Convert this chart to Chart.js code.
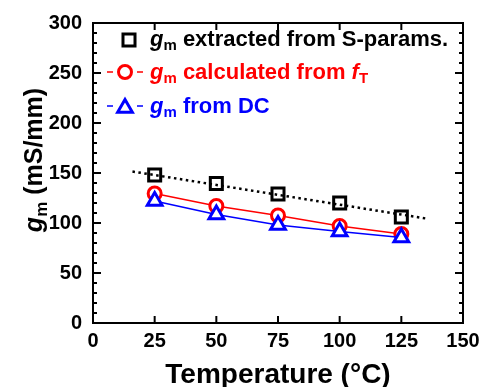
<!DOCTYPE html>
<html lang="en">
<head>
    <meta charset="UTF-8">
    <title>gm vs Temperature</title>
    <script src="https://cdn.jsdelivr.net/npm/chart.js"></script>
    <style>
        body {
            margin: 0;
            padding: 0;
            background: #fff;
        }
        .chart-box {
            width: 496px;
            height: 387px;
        }
    </style>
</head>
<body>
    <div class="chart-box"><canvas id="gmChart" width="496" height="387"></canvas></div>
    <script>
        // values
        const temps = [25, 50, 75, 100, 125];
        const gmSparams = [148, 139.5, 129, 120, 106];
        const gmFromFt = [129.5, 117, 107.5, 97, 89];
        const gmFromDC = [122, 108.5, 98, 91.5, 85.5];
        // dotted linear fit through the S-param points
        const fitX = [16, 135];
        const fitY = [151.5, 104.5];

        const FONT = 'Arial, "Liberation Sans", sans-serif';

        const toPts = (xs, ys) => xs.map((x, i) => ({ x: x, y: ys[i] }));

        function richWidth(ctx, parts) {
            let w = 0;
            parts.forEach(p => { ctx.font = p.font; w += ctx.measureText(p.t).width; });
            return w;
        }

        function drawRich(ctx, parts, x, y, color) {
            let cx = x;
            ctx.fillStyle = color;
            ctx.textAlign = 'left';
            ctx.textBaseline = 'alphabetic';
            parts.forEach(p => {
                ctx.font = p.font;
                ctx.fillText(p.t, cx, y + (p.dy || 0));
                cx += ctx.measureText(p.t).width;
            });
        }

        function gmParts(size, rest) {
            const sub = Math.round(size * 0.68);
            return [
                { t: 'g', font: 'italic bold ' + size + 'px ' + FONT },
                { t: 'm', font: 'bold ' + sub + 'px ' + FONT, dy: size * 0.2 }
            ].concat(rest);
        }

        function marker(ctx, style, x, y, r, color, fill) {
            ctx.save();
            ctx.strokeStyle = color;
            ctx.fillStyle = fill;
            ctx.lineWidth = 3;
            Chart.helpers.drawPoint(ctx, { pointStyle: style, radius: r, borderWidth: 3 }, x, y);
            ctx.restore();
        }

        // box, inside ticks, legend and axis titles
        const decorPlugin = {
            id: 'decor',
            afterDraw(chart) {
                const ctx = chart.ctx;
                const a = chart.chartArea;
                const xs = chart.scales.x;
                const ys = chart.scales.y;
                ctx.save();
                ctx.strokeStyle = '#000';
                ctx.lineWidth = 2;
                ctx.strokeRect(a.left, a.top, a.right - a.left, a.bottom - a.top);

                ctx.beginPath();
                for (let v = 0; v <= 300; v += 10) {
                    const py = ys.getPixelForValue(v);
                    const len = v % 50 === 0 ? 8 : 4;
                    ctx.moveTo(a.left, py); ctx.lineTo(a.left + len, py);
                    ctx.moveTo(a.right, py); ctx.lineTo(a.right - len, py);
                }
                for (let v = 0; v <= 150; v += 25) {
                    const px = xs.getPixelForValue(v);
                    ctx.moveTo(px, a.bottom); ctx.lineTo(px, a.bottom - 7);
                    ctx.moveTo(px, a.top); ctx.lineTo(px, a.top + 7);
                }
                ctx.stroke();

                // legend
                const lf = 22;
                const body = 'bold ' + lf + 'px ' + FONT;
                const ital = 'italic bold ' + lf + 'px ' + FONT;
                const sub = 'bold ' + Math.round(lf * 0.68) + 'px ' + FONT;
                const textX = 150;

                marker(ctx, 'rect', 129, 40, 8.5, '#000', 'rgba(0,0,0,0)');
                drawRich(ctx, gmParts(lf, [{ t: ' extracted from S-params.', font: body }]), textX, 46, '#000');

                const rows = [
                    { y: 72, color: '#ff0000', style: 'circle', r: 6.5,
                      parts: gmParts(lf, [{ t: ' calculated from ', font: body }, { t: 'f', font: ital }, { t: 'T', font: sub, dy: lf * 0.2 }]) },
                    { y: 106, color: '#0000ff', style: 'triangle', r: 8.5,
                      parts: gmParts(lf, [{ t: ' from DC', font: body }]) }
                ];
                rows.forEach(row => {
                    ctx.strokeStyle = row.color;
                    ctx.lineWidth = 1.5;
                    ctx.beginPath();
                    ctx.moveTo(107, row.y); ctx.lineTo(113, row.y);
                    ctx.moveTo(137, row.y); ctx.lineTo(143, row.y);
                    ctx.stroke();
                    marker(ctx, row.style, 125, row.y + (row.style === 'triangle' ? 2 : 0), row.r, row.color, '#fff');
                    drawRich(ctx, row.parts, textX, row.y + 7, row.color);
                });

                // x title
                ctx.font = 'bold 28px ' + FONT;
                ctx.fillStyle = '#000';
                ctx.textAlign = 'center';
                ctx.textBaseline = 'alphabetic';
                ctx.fillText('Temperature (\u00B0C)', (a.left + a.right) / 2, 383);

                // y title
                const yParts = gmParts(25, [{ t: ' (mS/mm)', font: 'bold 25px ' + FONT }]);
                ctx.save();
                ctx.translate(42, 160);
                ctx.rotate(-Math.PI / 2);
                drawRich(ctx, yParts, -richWidth(ctx, yParts) / 2, 0, '#000');
                ctx.restore();

                ctx.restore();
            }
        };

        new Chart(document.getElementById('gmChart'), {
            type: 'line',
            data: {
                datasets: [
                    {
                        label: 'gm from DC',
                        data: toPts(temps, gmFromDC),
                        borderColor: '#0000ff',
                        borderWidth: 1.5,
                        pointStyle: 'triangle',
                        pointRadius: 8.5,
                        pointBorderWidth: 3,
                        pointBackgroundColor: '#fff',
                        pointBorderColor: '#0000ff',
                        order: 0
                    },
                    {
                        label: 'gm calculated from fT',
                        data: toPts(temps, gmFromFt),
                        borderColor: '#ff0000',
                        borderWidth: 1.5,
                        pointStyle: 'circle',
                        pointRadius: 6.5,
                        pointBorderWidth: 3,
                        pointBackgroundColor: '#fff',
                        pointBorderColor: '#ff0000',
                        order: 1
                    },
                    {
                        label: 'gm extracted from S-params.',
                        data: toPts(temps, gmSparams),
                        showLine: false,
                        pointStyle: 'rect',
                        pointRadius: 8.5,
                        pointBorderWidth: 3,
                        pointBackgroundColor: 'rgba(0,0,0,0)',
                        pointBorderColor: '#000',
                        order: 2
                    },
                    {
                        label: 'fit',
                        data: toPts(fitX, fitY),
                        borderColor: '#000',
                        borderWidth: 2.5,
                        borderDash: [2.5, 3.5],
                        pointRadius: 0,
                        order: 3
                    }
                ]
            },
            options: {
                responsive: false,
                animation: false,
                layout: { padding: { top: 17, right: 33, left: 0, bottom: 0 } },
                plugins: {
                    legend: { display: false },
                    tooltip: { enabled: false }
                },
                scales: {
                    x: {
                        type: 'linear',
                        min: 0,
                        max: 150,
                        grid: { display: false, drawTicks: false },
                        border: { display: false },
                        ticks: {
                            stepSize: 25,
                            padding: 6,
                            maxRotation: 0,
                            color: '#000',
                            font: { family: FONT, size: 20, weight: 'bold' }
                        },
                        afterFit(scale) { scale.height = 64; }
                    },
                    y: {
                        min: 0,
                        max: 300,
                        grid: { display: false, drawTicks: false },
                        border: { display: false },
                        ticks: {
                            stepSize: 50,
                            padding: 11,
                            color: '#000',
                            font: { family: FONT, size: 20, weight: 'bold' }
                        },
                        afterFit(scale) { scale.width = 93; }
                    }
                }
            },
            plugins: [decorPlugin]
        });
    </script>
</body>
</html>
